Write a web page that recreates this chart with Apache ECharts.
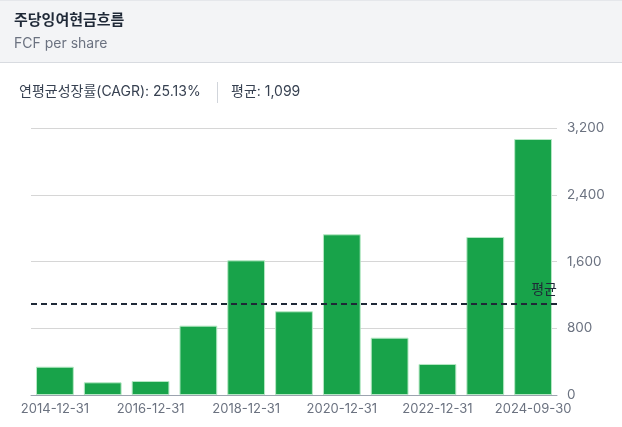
<!DOCTYPE html>
<html>
<head>
<meta charset="utf-8">
<script src="https://cdn.jsdelivr.net/npm/echarts@6/dist/echarts.min.js"></script>
<style>
html,body{margin:0;padding:0;background:#fff;}
#chart{width:622px;height:427px;}
</style>
</head>
<body>
<div id="chart"></div>
<script>
const categories = ['2014-12-31','2015-12-31','2016-12-31','2017-12-31','2018-12-31','2019-12-31','2020-12-31','2021-12-31','2022-12-31','2023-12-31','2024-09-30'];
const fcfPerShare = [339, 152, 168, 831, 1614, 1003, 1926, 687, 372, 1894, 3068];
const averageValue = 1099;
const cagrText = '연평균성장률(CAGR): 25.13%';
const avgText = '평균: 1,099';
const titleText = '주당잉여현금흐름';
const subtitleText = 'FCF per share';
const yTicks = [0, 800, 1600, 2400, 3200];

const FONT = "Inter, 'Noto Sans CJK KR', sans-serif";
const chart = echarts.init(document.getElementById('chart'), null, {renderer:'canvas'});
chart.setOption({
  animation: false,
  backgroundColor: '#ffffff',
  textStyle: {fontFamily: FONT},
  graphic: [
    {type:'rect', shape:{x:0, y:1, width:622, height:61}, style:{fill:'#f3f4f6'}, z:-10},
    {type:'rect', shape:{x:0, y:62, width:622, height:1}, style:{fill:'#d8dbe0'}, z:-9},
    {type:'rect', shape:{x:0, y:0, width:622, height:1}, style:{fill:'#e5e7eb'}, z:-9},
    {type:'text', left:14, top:13, style:{text:titleText, font:"bold 15px " + FONT, fill:'#1f2937'}},
    {type:'text', left:14, top:37, style:{text:subtitleText, font:"14px " + FONT, fill:'#6b7280'}},
    {type:'text', left:19, top:85, style:{text:cagrText, font:"14px " + FONT, fill:'#374151'}},
    {type:'rect', shape:{x:217, y:82, width:1, height:21}, style:{fill:'#d1d5db'}},
    {type:'text', left:231, top:85, style:{text:avgText, font:"14px " + FONT, fill:'#374151'}}
  ],
  grid: {left:31, right:65, top:128, bottom:32, containLabel:false},
  xAxis: {
    type:'category',
    data: categories,
    axisLine:{lineStyle:{color:'#9ca3af', width:1}},
    axisTick:{alignWithLabel:true, length:5, interval:1, lineStyle:{color:'#9ca3af'}},
    axisLabel:{interval:1, color:'#6b7280', fontSize:13, margin:8, fontFamily:FONT}
  },
  yAxis: {
    type:'value',
    position:'right',
    min: yTicks[0], max: yTicks[yTicks.length-1], interval: 800,
    axisLine:{show:false}, axisTick:{show:false},
    splitLine:{lineStyle:{color:'#d6d6d6', width:1}},
    axisLabel:{color:'#6b7280', fontSize:13.5, margin:10, fontFamily:FONT,
      formatter: v => v.toLocaleString('en-US')}
  },
  series: [{
    type:'bar',
    data: fcfPerShare,
    barWidth:'79%',
    itemStyle:{color:'#18a34a', borderColor:'#b5e8c4', borderWidth:1},
    markLine:{
      silent:true,
      symbol:['none','none'],
      lineStyle:{color:'#1f2937', type:[6,4], width:2},
      label:{show:true, position:'insideEndTop', formatter:'평균', color:'#1f2937', fontSize:14, fontFamily:FONT, distance:[0,7]},
      data:[{yAxis: averageValue}]
    }
  }]
});
</script>
</body>
</html>
